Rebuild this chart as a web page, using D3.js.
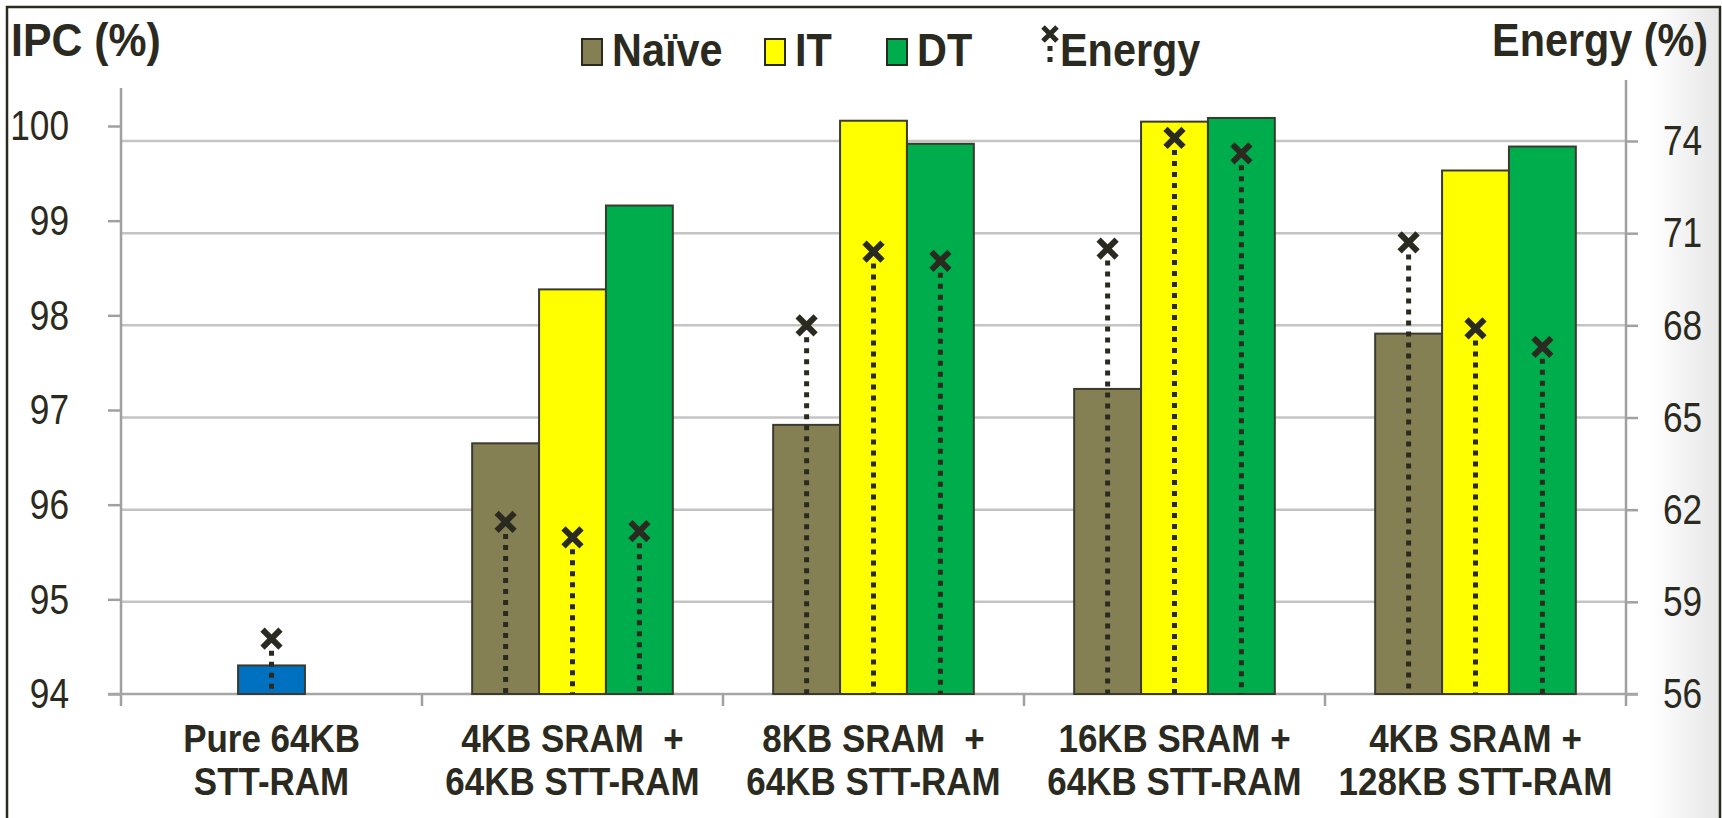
<!DOCTYPE html>
<html>
<head>
<meta charset="utf-8">
<script src="https://cdn.jsdelivr.net/npm/d3@7"></script>
<style>
    body { margin: 0; background: #fff; }
    text { fill: #2b2a20; font-family: "Liberation Sans", Arial, sans-serif; white-space: pre; }
</style>
</head>
<body>
<div id="chart"></div>
<script>
/* Data */
var categories  = ["Pure 64KB\nSTT-RAM", "4KB SRAM  +\n64KB STT-RAM", "8KB SRAM  +\n64KB STT-RAM", "16KB SRAM +\n64KB STT-RAM", "4KB SRAM +\n128KB STT-RAM"];
var series      = ["Naïve", "IT", "DT"];
var baseIPC     = 94.31;
var baseEnergy  = 57.8;
var ipcNaive    = [96.72, 96.92, 97.31, 97.91];
var ipcIT       = [98.39, 100.22, 100.21, 99.68];
var ipcDT       = [99.30, 99.97, 100.25, 99.94];
var energyNaive = [61.6, 68.0, 70.5, 70.7];
var energyIT    = [61.1, 70.4, 74.1, 67.9];
var energyDT    = [61.3, 70.1, 73.6, 67.3];
var ipcTicks    = [94, 95, 96, 97, 98, 99, 100];
var energyTicks = [56, 59, 62, 65, 68, 71, 74];

/* Styles */
var colors   = {"Naïve": "#858054", "IT": "#ffff00", "DT": "#00ad4c", base: "#0070c0"};
var ink      = "#2b2a20";
var width    = 1722,
    height   = 818,
    plotL    = 121,
    plotR    = 1626,
    plotT    = 141,
    plotB    = 694;

var svg = d3.select("#chart").append("svg")
    .attr("width", width)
    .attr("height", height);

// text helper (sx squeezes horizontally, narrow font look)
var addText = function (parent, x, yy, str, size, bold, anchor, sx) {
    return parent.append("text")
        .attr("transform", "translate(" + x + "," + yy + ") scale(" + (sx || 1) + ",1)")
        .attr("text-anchor", anchor || "start")
        .attr("font-size", size)
        .attr("font-weight", bold ? "bold" : "normal")
        .text(str);
};

// right side shadow
var grad = svg.append("defs").append("linearGradient").attr("id", "shade");
grad.append("stop").attr("offset", "0%").attr("stop-color", "#ffffff");
grad.append("stop").attr("offset", "100%").attr("stop-color", "#e6e6e6");
svg.append("rect").attr("x", 1650).attr("y", 7).attr("width", 70).attr("height", height).attr("fill", "url(#shade)");

// outer border
svg.append("rect")
    .attr("x", 7).attr("y", 7)
    .attr("width", 1713).attr("height", height + 20)
    .attr("fill", "none").attr("stroke", ink).attr("stroke-width", 2.5);

/* Scales */
var x0 = d3.scaleBand().domain(categories).range([plotL, plotR]);
var x1 = d3.scaleBand().domain(series).range([0, x0.bandwidth()]).paddingOuter(0.75);
var y  = d3.scaleLinear().domain([94, 100]).range([plotB, plotT]);
var yTick = d3.scaleLinear().domain([94, 100]).range([plotB, 126]);   // left labels sit a bit higher in the original
var yE = d3.scaleLinear().domain([56, 74]).range([plotB, plotT]);

/* Gridlines */
svg.append("g").selectAll("line")
    .data(ipcTicks.slice(1))
    .enter().append("line")
    .attr("x1", plotL).attr("x2", plotR)
    .attr("y1", function (d) { return y(d); })
    .attr("y2", function (d) { return y(d); })
    .attr("stroke", "#c4c4c4").attr("stroke-width", 2.5);

/* Axes */
var axisL = svg.append("g")
    .attr("transform", "translate(" + plotL + ",0)")
    .call(d3.axisLeft(yTick).tickValues(ipcTicks).tickSize(13).tickFormat(d3.format("d")));
var axisR = svg.append("g")
    .attr("transform", "translate(" + plotR + ",0)")
    .call(d3.axisRight(yE).tickValues(energyTicks).tickSize(12).tickFormat(d3.format("d")));
[[axisL, -52], [axisR, 37]].forEach(function (a) {
    a[0].select(".domain").remove();
    a[0].selectAll(".tick line").attr("stroke", "#a0a0a0").attr("stroke-width", 2.5);
    a[0].selectAll(".tick text")
        .attr("x", 0)
        .attr("transform", "translate(" + a[1] + ",0) scale(0.82,1)")
        .attr("font-size", 43).attr("fill", ink);
});

// axis lines
svg.append("line").attr("x1", plotL).attr("x2", plotL).attr("y1", 88).attr("y2", 706).attr("stroke", "#a0a0a0").attr("stroke-width", 2.5);
svg.append("line").attr("x1", plotR).attr("x2", plotR).attr("y1", 80).attr("y2", 706).attr("stroke", "#a0a0a0").attr("stroke-width", 2.5);
svg.append("line").attr("x1", 108).attr("x2", plotR + 12).attr("y1", plotB).attr("y2", plotB).attr("stroke", "#a6a6a6").attr("stroke-width", 2.5);
svg.append("g").selectAll("line")
    .data(categories.slice(1))
    .enter().append("line")
    .attr("x1", function (d) { return x0(d); })
    .attr("x2", function (d) { return x0(d); })
    .attr("y1", plotB).attr("y2", 706)
    .attr("stroke", "#a0a0a0").attr("stroke-width", 2.5);

/* Build rows */
var rows = [{cat: categories[0], key: "base", x: x0(categories[0]) + x0.bandwidth() / 2 - x1.bandwidth() / 2, ipc: baseIPC, energy: baseEnergy}];
var ipcBy    = {"Naïve": ipcNaive, "IT": ipcIT, "DT": ipcDT};
var energyBy = {"Naïve": energyNaive, "IT": energyIT, "DT": energyDT};
categories.slice(1).forEach(function (c, i) {
    series.forEach(function (s) {
        rows.push({cat: c, key: s, x: x0(c) + x1(s), ipc: ipcBy[s][i], energy: energyBy[s][i]});
    });
});

/* Bars */
svg.append("g").selectAll("rect")
    .data(rows)
    .enter().append("rect")
    .attr("x", function (d) { return d.x; })
    .attr("y", function (d) { return y(d.ipc); })
    .attr("width", x1.bandwidth())
    .attr("height", function (d) { return plotB - y(d.ipc); })
    .attr("fill", function (d) { return colors[d.key]; })
    .attr("stroke", "#3b3a2e").attr("stroke-width", 2);

/* Energy drop lines + markers */
var cross = function (cx, cy, r) {
    return "M" + (cx - r) + "," + (cy - r) + "L" + (cx + r) + "," + (cy + r) + "M" + (cx - r) + "," + (cy + r) + "L" + (cx + r) + "," + (cy - r);
};
var marks = svg.append("g");
marks.selectAll("line")
    .data(rows)
    .enter().append("line")
    .attr("x1", function (d) { return d.x + x1.bandwidth() / 2; })
    .attr("x2", function (d) { return d.x + x1.bandwidth() / 2; })
    .attr("y1", function (d) { return yE(d.energy) + 12; })
    .attr("y2", plotB)
    .attr("stroke", ink).attr("stroke-width", 5).attr("stroke-dasharray", "5,6");
marks.selectAll("path")
    .data(rows)
    .enter().append("path")
    .attr("d", function (d) { return cross(d.x + x1.bandwidth() / 2, yE(d.energy), 9); })
    .attr("stroke", ink).attr("stroke-width", 6).attr("fill", "none");

/* Category labels */
var labelG = svg.append("g");
categories.forEach(function (c) {
    c.split("\n").forEach(function (line, i) {
        addText(labelG, x0(c) + x0.bandwidth() / 2, 752 + i * 42.5, line, 38, true, "middle", 0.92);
    });
});

/* Axis titles */
addText(svg, 11, 56, "IPC (%)", 47, true, "start", 0.91);
addText(svg, 1708, 56, "Energy (%)", 47, true, "end", 0.88);

/* Legend */
var legendX = [582, 765, 887];
series.forEach(function (s, i) {
    svg.append("rect")
        .attr("x", legendX[i]).attr("y", 39).attr("width", 20).attr("height", 26)
        .attr("fill", colors[s]).attr("stroke", ink).attr("stroke-width", 2);
    addText(svg, legendX[i] + 30, 66, s, 46, true, "start", 0.9);
});
svg.append("path").attr("d", cross(1050, 34, 7)).attr("stroke", ink).attr("stroke-width", 5).attr("fill", "none");
svg.append("line").attr("x1", 1050).attr("x2", 1050).attr("y1", 46).attr("y2", 68)
    .attr("stroke", ink).attr("stroke-width", 5).attr("stroke-dasharray", "5,6");
addText(svg, 1060, 66, "Energy", 46, true, "start", 0.9);
</script>
</body>
</html>
